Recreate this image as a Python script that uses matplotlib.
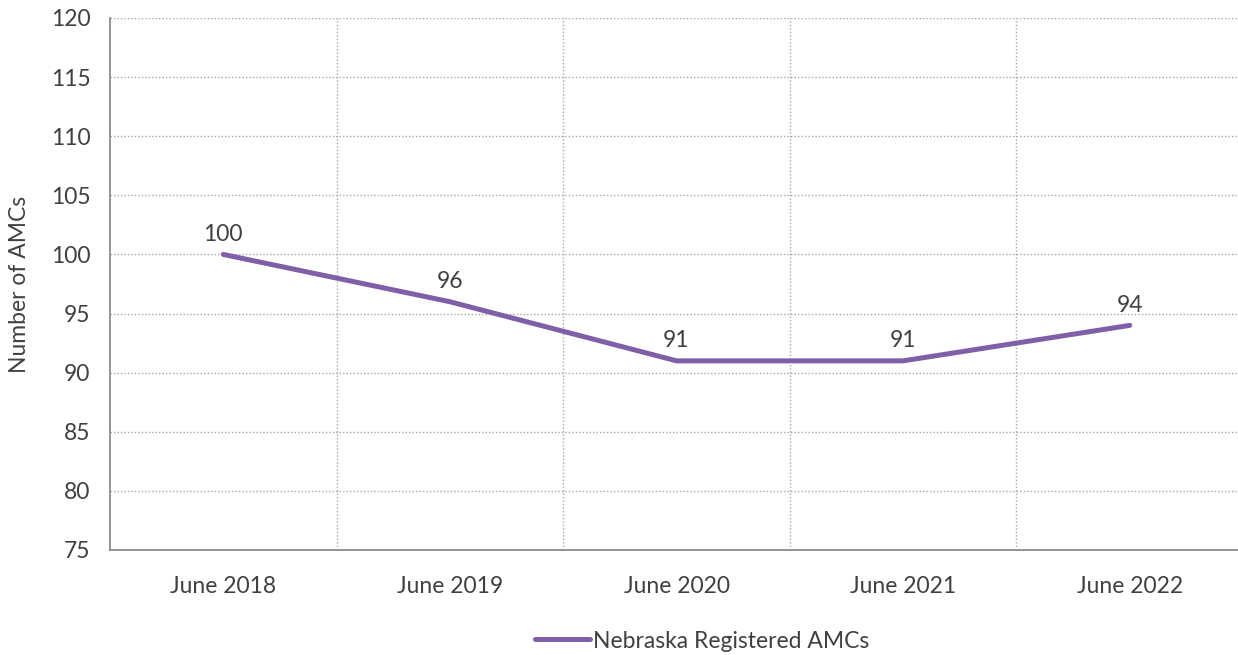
import matplotlib.pyplot as plt

# data
periods = ["June 2018", "June 2019", "June 2020", "June 2021", "June 2022"]
amcs = [100, 96, 91, 91, 94]

plt.rcParams['font.family'] = ['Lato', 'DejaVu Sans']
txt = "#404040"
grid_c = "#a6a6a6"
fs = 16.5

fig = plt.figure(figsize=(12.38, 6.55), dpi=100)
ax = fig.add_axes([110 / 1238, 1 - 550 / 655, 1133 / 1238, 532 / 655])

x = list(range(len(periods)))
line, = ax.plot(x, amcs, color="#7f5fa8", lw=3.6, solid_capstyle="round",
                label="Nebraska Registered AMCs")

for xi, v in zip(x, amcs):
    ax.annotate(str(v), (xi, v), xytext=(0, 7), textcoords="offset points",
                ha="center", va="bottom", fontsize=fs, color=txt)

ax.set_xlim(-0.5, len(periods) - 0.5)
ax.set_ylim(75, 120)
ax.set_yticks(range(75, 121, 5))
ax.set_xticks(x)
ax.set_xticklabels(periods)
ax.set_xticks([i + 0.5 for i in x[:-1]], minor=True)

ax.grid(axis="y", which="major", color=grid_c, ls=(0, (1, 1.5)), lw=1)
ax.grid(axis="x", which="minor", color=grid_c, ls=(0, (1, 1.5)), lw=1)
ax.set_axisbelow(True)

for s in ["top", "right"]:
    ax.spines[s].set_visible(False)
for s in ["left", "bottom"]:
    ax.spines[s].set_color("#8c8c8c")
    ax.spines[s].set_linewidth(1.3)

ax.tick_params(which="both", length=0, labelsize=fs, colors=txt)
ax.tick_params(axis="x", pad=19)
ax.tick_params(axis="y", pad=14)

ax.set_ylabel("Number of AMCs", fontsize=fs, color=txt)
ax.yaxis.set_label_coords(-0.071, 0.5)

fig.legend(handles=[line], loc="center", bbox_to_anchor=(702 / 1238, 1 - 641 / 655),
           frameon=False, fontsize=fs, labelcolor=txt, handlelength=2.4,
           handletextpad=0.1)

fig.savefig("out.png", dpi=100)
